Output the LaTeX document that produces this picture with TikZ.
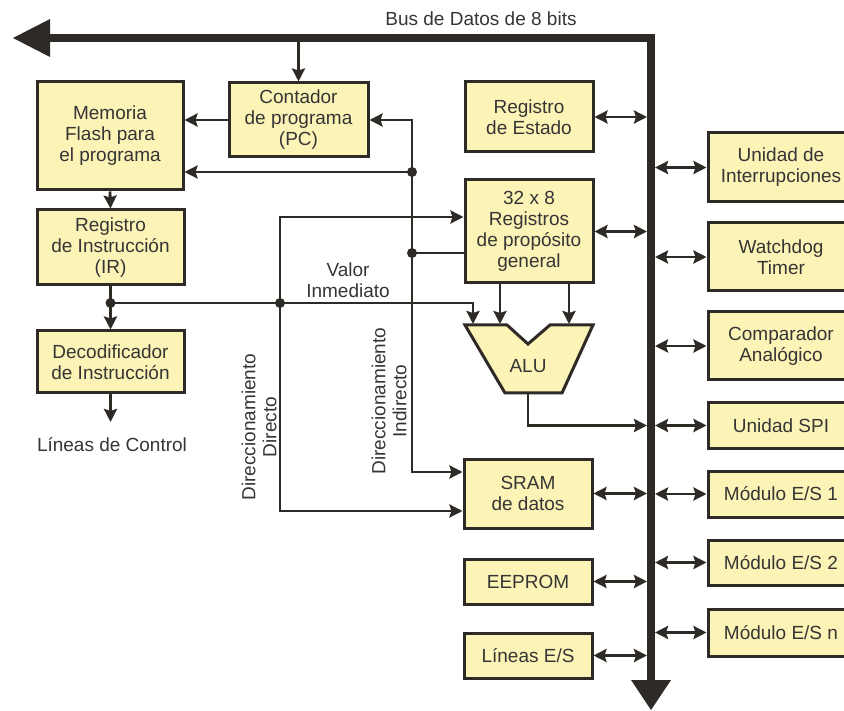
\documentclass[tikz,border=0pt]{standalone}
\usepackage{fontspec}
\setmainfont{Liberation Sans}
\usetikzlibrary{arrows.meta}
\definecolor{boxfill}{HTML}{FCF3B6}
\definecolor{ink}{HTML}{2E2A26}
\definecolor{txt}{HTML}{353535}
\tikzset{
  blk/.style={draw=ink, line width=3pt, fill=boxfill, text=txt, align=center, inner sep=0pt, font=\fontsize{19}{21}\selectfont},
  wire/.style={draw=ink, line width=2.8pt},
  tip/.tip={Stealth[length=13pt,width=13pt,inset=2pt]},
  arr/.style={wire, -tip},
  darr/.style={wire, tip-tip},
  lbl/.style={text=txt, align=center, inner sep=0pt, font=\fontsize{19}{21}\selectfont},
  bus/.style={draw=ink, line width=7.5pt, line join=miter},
}
\begin{document}
\begin{tikzpicture}[x=1pt,y=-1pt]
\useasboundingbox (0,0) rectangle (844,711);
\clip (0,0) rectangle (844,711);
% bus
\draw[bus] (651,682) -- (651,38) -- (48,38);
\fill[ink] (13,38) -- (50,19) -- (50,57) -- cycle;
\fill[ink] (651,710) -- (631,680) -- (671,680) -- cycle;
\node[lbl] (bustxt) at (481,19) {Bus de Datos de 8 bits};
\coordinate (busL) at (647,0);
\coordinate (busR) at (655,0);
\coordinate (busTop) at (0,41.5);
% left column
\node[blk, minimum width=146pt, minimum height=108pt] (flash) at (110,136) {Memoria\\Flash para\\el programa};
\node[blk, minimum width=139pt, minimum height=74pt] (pc) at (298.5,120) {Contador\\de programa\\(PC)};
\node[blk, minimum width=147pt, minimum height=75pt] (ir) at (110.5,247.5) {Registro\\de Instrucción\\(IR)};
\node[blk, minimum width=147pt, minimum height=62pt] (dec) at (110.5,362) {Decodificador\\de Instrucción};
\node[lbl] (ctrl) at (112,445) {Líneas de Control};
% middle column
\node[blk, minimum width=128pt, minimum height=70pt] (estado) at (529,117) {Registro\\de Estado};
\node[blk, minimum width=128pt, minimum height=103pt] (regs) at (529,231.5) {32 x 8\\Registros\\de propósito\\general};
\node[blk, minimum width=128pt, minimum height=69pt] (sram) at (528,493.5) {SRAM\\de datos};
\node[blk, minimum width=128pt, minimum height=45pt] (eeprom) at (528,581.5) {EEPROM};
\node[blk, minimum width=128pt, minimum height=45pt] (lineas) at (528,655.5) {Líneas E/S};
% ALU
\draw[ink, line width=3pt, fill=boxfill, line join=miter] (465,325) -- (507,325) -- (528,344) -- (550,325) -- (593,325) -- (562,393) -- (505,393) -- cycle;
\node[lbl] (alu) at (528,366) {ALU};
\coordinate (aluA) at (473,324);
\coordinate (aluB) at (500,324);
\coordinate (aluC) at (569,324);
\coordinate (aluO) at (528,393);
% right column
\node[blk, minimum width=146pt, minimum height=69pt] (int) at (781,167.5) {Unidad de\\Interrupciones};
\node[blk, minimum width=146pt, minimum height=68pt] (wd) at (781,257) {Watchdog\\Timer};
\node[blk, minimum width=146pt, minimum height=68pt] (comp) at (781,346) {Comparador\\Analógico};
\node[blk, minimum width=146pt, minimum height=45pt] (spi) at (781,425.5) {Unidad SPI};
\node[blk, minimum width=146pt, minimum height=46pt] (m1) at (781,494) {Módulo E/S 1};
\node[blk, minimum width=146pt, minimum height=45pt] (m2) at (781,562.5) {Módulo E/S 2};
\node[blk, minimum width=146pt, minimum height=47pt] (mn) at (781,632.5) {Módulo E/S n};
% labels
\node[lbl] (valor) at (348,280) {Valor\\Inmediato};
\node[lbl, rotate=90] (directo) at (259,427) {Direccionamiento\\Directo};
\node[lbl, rotate=90] (indirecto) at (389,401) {Direccionamiento\\Indirecto};
% junctions
\coordinate (j1) at (412,172);
\coordinate (j2) at (412,253);
\coordinate (i1) at (110.5,303);
\coordinate (d1) at (280,303);
\coordinate (ctrlend) at (110.5,422);
% connectors left
\draw[arr] (pc.north |- busTop) -- (pc.north);
\draw[arr] (pc.west) -- (pc.west -| flash.east);
\draw[arr] (flash.south) -- (ir.north);
\draw[wire] (ir.south) -- (i1);
\draw[arr] (i1) -- (dec.north);
\draw[arr] (dec.south) -- (ctrlend);
\draw[arr] (i1) -| (aluA);
\draw[arr] (d1) |- ([yshift=14.5pt]regs.west);
\draw[arr] (d1) |- ([yshift=-17.5pt]sram.west);
\draw[arr] (j1) |- (pc.east);
\draw[arr] (j1) -- (j1 -| flash.east);
\draw[wire] (j1) -- (j2);
\draw[wire] (j2) -- (j2 -| regs.west);
\draw[arr] (j2) |- ([yshift=21.5pt]sram.west);
\draw[arr] (regs.south -| aluB) -- (aluB);
\draw[arr] (regs.south -| aluC) -- (aluC);
\draw[arr] (aluO) |- (busL |- spi);
\foreach \j in {j1,j2,i1,d1} \fill[ink] (\j) circle (5pt);
% bus connections
\foreach \b in {estado,regs,sram,eeprom,lineas}
  \draw[darr] (\b.east) -- (\b.east -| busL);
\foreach \b in {int,wd,comp,spi,m1,m2,mn}
  \draw[darr] (busR |- \b.west) -- (\b.west);
\end{tikzpicture}
\end{document}
